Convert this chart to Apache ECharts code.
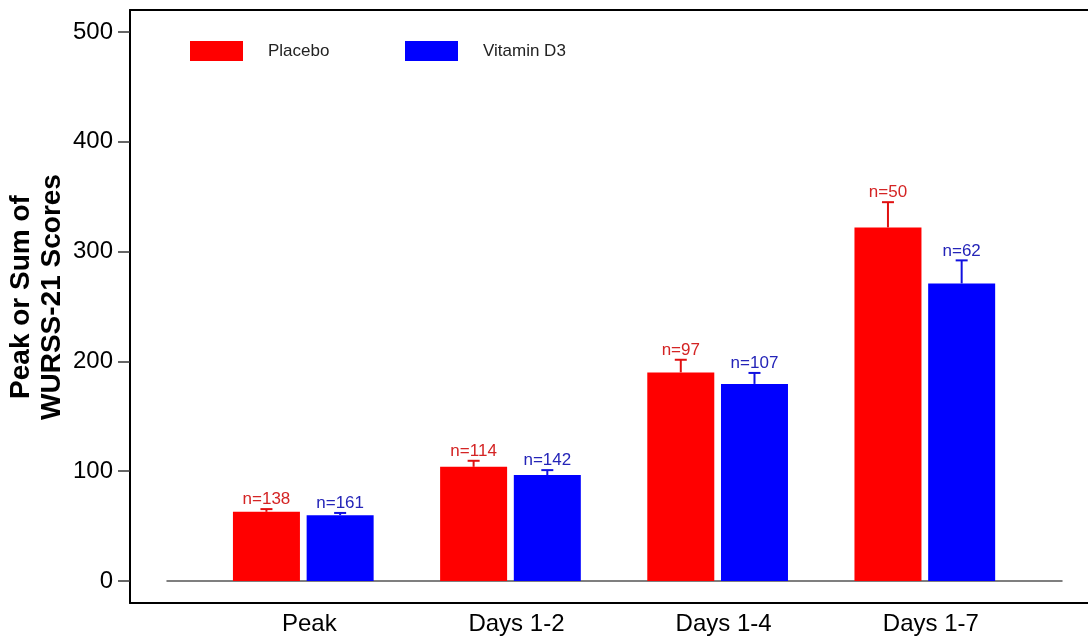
<!DOCTYPE html>
<html>
<head>
<meta charset="utf-8">
<title>WURSS-21 Scores</title>
<script src="https://cdn.jsdelivr.net/npm/echarts@6/dist/echarts.min.js"></script>
<style>
  html, body { margin: 0; padding: 0; background: #fff; }
  #chart { width: 1088px; height: 639px; }
</style>
</head>
<body>
<div id="chart"></div>
<script>
// Group means, standard errors and group sizes per scoring window
const categories = ['Peak', 'Days 1-2', 'Days 1-4', 'Days 1-7'];
const placeboMean = [63, 104, 190, 322];
const placeboErr = [2.5, 5.5, 11.5, 23];
const placeboN = [138, 114, 97, 50];
const vitaminMean = [60, 96.5, 179.5, 271];
const vitaminErr = [2, 4.5, 10, 21];
const vitaminN = [161, 142, 107, 62];
const yTicks = [0, 100, 200, 300, 400, 500];

const FONT = 'Liberation Sans, Arial, Helvetica, sans-serif';
const BAR_W = 67;
const BAR_GAP = 0.1;
const Y_MIN = -20, Y_MAX = 520;

const chart = echarts.init(document.getElementById('chart'), null, { renderer: 'canvas' });

function errorBars(side, lineColor, textColor) {
  return function (params, api) {
    const idx = api.value(0);
    const mean = api.value(1);
    const err = api.value(2);
    const n = api.value(3);
    const base = api.coord([idx, mean]);
    const top = api.coord([idx, mean + err]);
    const shift = (BAR_W + BAR_W * BAR_GAP) / 2;
    const x = base[0] + side * shift;
    return {
      type: 'group',
      children: [
        { type: 'line', shape: { x1: x, y1: base[1], x2: x, y2: top[1] },
          style: { stroke: lineColor, lineWidth: 2 } },
        { type: 'line', shape: { x1: x - 6, y1: top[1], x2: x + 6, y2: top[1] },
          style: { stroke: lineColor, lineWidth: 2 } },
        { type: 'text', x: x, y: top[1] - 1,
          style: { text: 'n=' + n, fill: textColor, fontSize: 17, fontFamily: FONT,
                   align: 'center', verticalAlign: 'bottom' } }
      ]
    };
  };
}

function hiddenY(gridIndex) {
  return { type: 'value', gridIndex: gridIndex, min: Y_MIN, max: Y_MAX, show: false,
           splitLine: { show: false } };
}

const option = {
  backgroundColor: '#ffffff',
  animation: false,
  textStyle: { fontFamily: FONT },
  grid: [
    { left: 130, right: 0, top: 10, bottom: 36 },        // frame with the value scale
    { left: 199.7, right: 59.6, top: 10, bottom: 36 },   // bars
    { left: 167, right: 26, top: 10, bottom: 36 }        // zero line
  ],
  legend: [
    { data: ['Placebo'], left: 190, top: 41, padding: 0, icon: 'rect',
      itemWidth: 53, itemHeight: 20,
      textStyle: { fontSize: 17, color: '#222', fontFamily: FONT, padding: [0, 0, 0, 20] } },
    { data: ['Vitamin D3'], left: 405, top: 41, padding: 0, icon: 'rect',
      itemWidth: 53, itemHeight: 20,
      textStyle: { fontSize: 17, color: '#222', fontFamily: FONT, padding: [0, 0, 0, 20] } }
  ],
  xAxis: [
    { type: 'value', gridIndex: 0, min: 0, max: 1, position: 'bottom',
      axisLine: { show: true, onZero: false, lineStyle: { color: '#000', width: 2 } },
      axisTick: { show: false }, axisLabel: { show: false }, splitLine: { show: false } },
    { type: 'value', gridIndex: 0, min: 0, max: 1, position: 'top',
      axisLine: { show: true, onZero: false, lineStyle: { color: '#000', width: 2 } },
      axisTick: { show: false }, axisLabel: { show: false }, splitLine: { show: false } },
    { type: 'category', gridIndex: 1, data: categories,
      axisLine: { show: false }, axisTick: { show: false },
      axisLabel: { fontSize: 24, color: '#000', fontFamily: FONT, margin: 9,
                   padding: [0, 0, 0, 12] } },
    { type: 'category', gridIndex: 2, data: categories,
      axisLine: { show: true, onZero: true, lineStyle: { color: '#555', width: 1.5 } },
      axisTick: { show: false }, axisLabel: { show: false } }
  ],
  yAxis: [
    { type: 'value', gridIndex: 0, min: Y_MIN, max: Y_MAX,
      axisLine: { show: true, lineStyle: { color: '#000', width: 2 } },
      axisTick: { show: true, length: 12, customValues: yTicks,
                  lineStyle: { color: '#333', width: 1.5 } },
      axisLabel: { customValues: yTicks, fontSize: 24, color: '#000', fontFamily: FONT, margin: 17 },
      splitLine: { show: false } },
    hiddenY(1),
    hiddenY(2)
  ],
  graphic: [
    { type: 'text', x: 37, y: 297, rotation: Math.PI / 2,
      style: { text: 'Peak or Sum of\nWURSS-21 Scores', fontSize: 28, fontWeight: 'bold',
               fontFamily: FONT, fill: '#000', align: 'center', verticalAlign: 'middle',
               lineHeight: 31 } }
  ],
  series: [
    { name: 'Placebo', type: 'bar', xAxisIndex: 2, yAxisIndex: 1,
      data: placeboMean, barWidth: BAR_W, barGap: (BAR_GAP * 100) + '%',
      itemStyle: { color: '#ff0000' } },
    { name: 'Vitamin D3', type: 'bar', xAxisIndex: 2, yAxisIndex: 1,
      data: vitaminMean, barWidth: BAR_W, barGap: (BAR_GAP * 100) + '%',
      itemStyle: { color: '#0000ff' } },
    { type: 'custom', xAxisIndex: 2, yAxisIndex: 1, z: 5,
      renderItem: errorBars(-1, '#e01010', '#d42424'),
      data: placeboMean.map((m, i) => [i, m, placeboErr[i], placeboN[i]]) },
    { type: 'custom', xAxisIndex: 2, yAxisIndex: 1, z: 5,
      renderItem: errorBars(1, '#1010e0', '#2424b8'),
      data: vitaminMean.map((m, i) => [i, m, vitaminErr[i], vitaminN[i]]) }
  ]
};

chart.setOption(option);
</script>
</body>
</html>
